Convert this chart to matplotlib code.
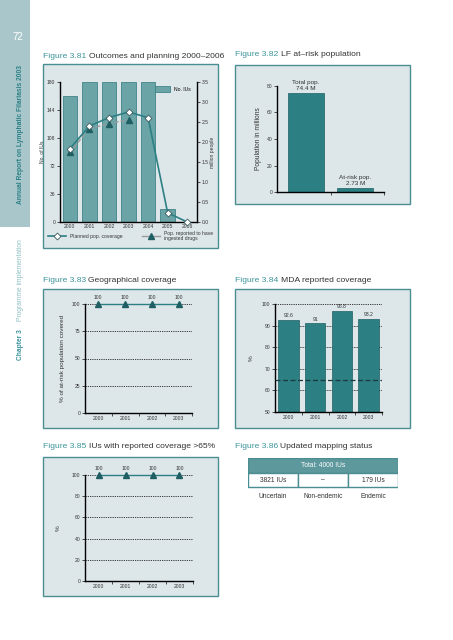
import matplotlib
matplotlib.use('Agg')
import matplotlib.pyplot as plt
from matplotlib.patches import Rectangle
from matplotlib.lines import Line2D
import numpy as np

plt.rcParams['font.family'] = ['Liberation Sans', 'DejaVu Sans']

W, H = 453, 640

# Figure 3.81
years_81 = [2000, 2001, 2002, 2003, 2004, 2005, 2006]
ius_81 = [162, 180, 180, 180, 180, 17, 0]
planned_81 = [1.83, 2.40, 2.61, 2.75, 2.61, 0.23, 0.0]
years_rep_81 = [2000, 2001, 2002, 2003]
reported_81 = [1.75, 2.33, 2.46, 2.56]

# Figure 3.82
groups_82 = ["Total pop.", "At-risk pop."]
pop_82 = [74.4, 2.73]
labels_82 = ["Total pop.\n74.4 M", "At-risk pop.\n2.73 M"]

# Figure 3.83
years_83 = ["2000", "2001", "2002", "2003"]
geo_83 = [100, 100, 100, 100]

# Figure 3.84
years_84 = ["2000", "2001", "2002", "2003"]
mda_84 = [92.6, 91.0, 96.8, 93.2]
mda_labels_84 = ["92.6", "91", "96.8", "93.2"]
target_84 = 65

# Figure 3.85
years_85 = ["2000", "2001", "2002", "2003"]
ius_85 = [100, 100, 100, 100]

# Figure 3.86
table_head_86 = "Total: 4000 IUs"
table_cells_86 = ["3821 IUs", "\u2013", "179 IUs"]
table_names_86 = ["Uncertain", "Non-endemic", "Endemic"]

TEAL = "#2c7f83"
TEAL_LIGHT = "#6aa4a7"
PANEL = "#dde7ea"
BORDER = "#4a8e92"
TITLE_TEAL = "#3b939a"
DARK = "#333333"

fig = plt.figure(figsize=(W / 100, H / 100), dpi=100)
fig.patch.set_facecolor("white")


def px(x, y, w, h):
    # pixel box (top-left origin) -> figure fraction
    return [x / W, 1 - (y + h) / H, w / W, h / H]


def panel(x, y, w, h):
    fig.patches.append(Rectangle((x / W, 1 - (y + h) / H), w / W, h / H,
                                 transform=fig.transFigure, facecolor=PANEL,
                                 edgecolor=BORDER, linewidth=1.0, zorder=-2))


def title(x, y, num, text):
    t = fig.text(x / W, 1 - y / H, "Figure " + num + " ", color=TITLE_TEAL,
                 fontsize=6.1, va="center", ha="left")
    fig.canvas.draw()
    bb = t.get_window_extent()
    fig.text(bb.x1 / W, 1 - y / H, text, color=DARK, fontsize=6.1,
             va="center", ha="left")


def style_ax(ax):
    ax.set_facecolor("none")
    for s in ["top", "right"]:
        ax.spines[s].set_visible(False)
    ax.spines["left"].set_linewidth(1.0)
    ax.spines["bottom"].set_linewidth(1.0)
    ax.tick_params(labelsize=3.6, colors=DARK, length=2, width=0.6, pad=1.5)


# sidebar
fig.patches.append(Rectangle((0, 1 - 227 / H), 30 / W, 227 / H, transform=fig.transFigure,
                             facecolor="#a9c7ca", edgecolor="none", zorder=-2))
fig.text(18 / W, 1 - 37 / H, "72", color="white", fontsize=7, ha="center", va="center")
fig.text(21 / W, 1 - 134 / H, "Annual Report on Lymphatic Filariasis 2003", color="#2b7f86",
         fontsize=4.8, rotation=90, ha="center", va="center", fontweight="bold")
fig.text(21 / W, 1 - 345 / H, "Chapter 3", color="#3b939a", fontsize=4.8, rotation=90,
         ha="center", va="center", fontweight="bold")
fig.text(21 / W, 1 - 280 / H, "Programme implementation", color="#8fc0c4", fontsize=4.8,
         rotation=90, ha="center", va="center")

# ---------- Figure 3.81 ----------
panel(43, 64, 175, 184)
title(43, 57, "3.81", "Outcomes and planning 2000\u20132006")
ax = fig.add_axes(px(60, 82, 137, 140))
style_ax(ax)
xi = np.arange(len(years_81))
ax.bar(xi, ius_81, width=0.74, color=TEAL_LIGHT, edgecolor="#3f8589", linewidth=0.6)
ax.set_ylim(0, 180)
ax.set_yticks([0, 36, 72, 108, 144, 180])
ax.set_xlim(-0.5, len(years_81) - 0.5)
ax.set_xticks(xi)
ax.set_xticklabels([str(y) for y in years_81])
ax.tick_params(axis="x", length=0)
ax.set_ylabel("No. of IUs", fontsize=3.6, color=DARK, labelpad=1)
ax2 = ax.twinx()
ax2.set_facecolor("none")
for s in ["top", "left", "bottom"]:
    ax2.spines[s].set_visible(False)
ax2.spines["right"].set_linewidth(1.0)
ax2.set_ylim(0, 3.5)
ax2.set_yticks(np.arange(0, 3.51, 0.5))
ax2.set_yticklabels(["%.1f" % v for v in np.arange(0, 3.51, 0.5)])
ax2.tick_params(labelsize=3.6, colors=DARK, length=2, width=0.6, pad=1.5)
ax2.set_ylabel("million people", fontsize=3.6, color=DARK, labelpad=1)
rx = [years_81.index(y) for y in years_rep_81]
ax2.plot(rx, reported_81, color="#9a9a9a", lw=1.0, ls=(0, (3, 1.5)),
         marker="^", ms=4.5, mfc="#1f5f63", mec="#1f5f63", zorder=3)
ax2.plot(xi, planned_81, color=TEAL, lw=1.2, marker="D", ms=3.5, mfc="white",
         mec="#3a5a5c", mew=0.6, zorder=4, clip_on=False)
ax2.legend(handles=[Rectangle((0, 0), 1, 1, fc=TEAL_LIGHT, ec="#3f8589", lw=0.6)],
           labels=["No. IUs"], loc="upper right", bbox_to_anchor=(0.99, 1.0), frameon=False,
           fontsize=3.6, handlelength=3, handleheight=1.4)
h1 = Line2D([], [], color=TEAL, lw=1.2, marker="D", ms=3.5, mfc="white", mec="#3a5a5c", mew=0.6)
h2 = Line2D([], [], color="#9a9a9a", lw=1.0, marker="^", ms=4.5, mfc="#1f5f63", mec="#1f5f63")
fig.legend(handles=[h1, h2], labels=["Planned pop. coverage", "Pop. reported to have\ningested drugs"],
           loc="center", bbox_to_anchor=((43 + 175 / 2) / W, 1 - 236 / H), ncol=2,
           frameon=False, fontsize=3.6, handlelength=3.5, columnspacing=4, labelcolor=DARK)

# ---------- Figure 3.82 ----------
panel(235, 65, 175, 139)
title(235, 55, "3.82", "LF at\u2013risk population")
ax = fig.add_axes(px(277, 86, 107, 106))
style_ax(ax)
bx = np.arange(len(groups_82))
ax.bar(bx, pop_82, width=0.73, color=TEAL, edgecolor="#1f5f63", linewidth=0.5)
ax.set_ylim(0, 80)
ax.set_xlim(-0.58, 1.58)
ax.set_yticks([0, 20, 40, 60, 80])
ax.set_xticks([0.5, 1.58])
ax.set_xticklabels([])
ax.set_ylabel("Population in millions", fontsize=4.8, color=DARK, labelpad=3)
for i, lab in enumerate(labels_82):
    ax.text(bx[i], pop_82[i] + 2, lab, ha="center", va="bottom", fontsize=4.6,
            color=DARK, linespacing=1.2)

# ---------- Figure 3.83 ----------
panel(43, 289, 175, 139)
title(43, 280, "3.83", "Geographical coverage")
ax = fig.add_axes(px(85, 304, 107, 109))
style_ax(ax)
cx = np.arange(len(years_83))
ax.set_xlim(-0.5, 3.5)
ax.set_ylim(0, 100)
ax.set_yticks([0, 25, 50, 75, 100])
for g in [25, 50, 75, 100]:
    ax.axhline(g, color="#222222", lw=0.6, ls=(0, (1.5, 1.2)), zorder=1)
ax.plot(cx, geo_83, color=TEAL, lw=1.0, marker="^", ms=4, mfc="#1f5f63", mec="#1f5f63",
        zorder=3, clip_on=False)
for i, v in enumerate(geo_83):
    ax.text(cx[i], v + 4, str(v), ha="center", va="bottom", fontsize=3.6, color=DARK)
ax.set_xticks([0.5, 1.5, 2.5, 3.5])
ax.set_xticklabels([])
ax.set_xticks(cx, minor=True)
ax.set_xticklabels(years_83, minor=True)
ax.tick_params(axis="x", which="minor", length=0, labelsize=3.6, colors=DARK, pad=2)
ax.set_ylabel("% of at-risk population covered", fontsize=4.6, color=DARK, labelpad=5)

# ---------- Figure 3.84 ----------
panel(235, 289, 175, 139)
title(235, 280, "3.84", "MDA reported coverage")
ax = fig.add_axes(px(275, 304, 107, 108))
style_ax(ax)
mx = np.arange(len(years_84))
ax.set_xlim(-0.5, 3.5)
ax.set_ylim(50, 100)
ax.set_yticks([50, 60, 70, 80, 90, 100])
for g in [60, 70, 80, 90, 100]:
    ax.axhline(g, color="#222222", lw=0.6, ls=(0, (1.5, 1.2)), zorder=1)
ax.bar(mx, mda_84, width=0.76, color=TEAL, edgecolor="#1f5f63", linewidth=0.5, zorder=2)
ax.axhline(target_84, color="#1a3a3c", lw=0.9, ls=(0, (4, 2)), zorder=3)
for i, v in enumerate(mda_84):
    ax.text(mx[i], v + 0.8, mda_labels_84[i], ha="center", va="bottom", fontsize=3.6, color=DARK)
ax.set_xticks([0.5, 1.5, 2.5, 3.5])
ax.set_xticklabels([])
ax.set_xticks(mx, minor=True)
ax.set_xticklabels(years_84, minor=True)
ax.tick_params(axis="x", which="minor", length=0, labelsize=3.6, colors=DARK, pad=2)
ax.set_ylabel("%", fontsize=4.6, color=DARK, labelpad=6)

# ---------- Figure 3.85 ----------
panel(43, 457, 175, 139)
title(43, 447, "3.85", "IUs with reported coverage >65%")
ax = fig.add_axes(px(85, 475, 108, 106))
style_ax(ax)
ex = np.arange(len(years_85))
ax.set_xlim(-0.5, 3.5)
ax.set_ylim(0, 100)
ax.set_yticks([0, 20, 40, 60, 80, 100])
for g in [20, 40, 60, 80, 100]:
    ax.axhline(g, color="#222222", lw=0.6, ls=(0, (1.5, 1.2)), zorder=1)
ax.plot(ex, ius_85, color=TEAL, lw=1.0, marker="^", ms=4, mfc="#1f5f63", mec="#1f5f63",
        zorder=3, clip_on=False)
for i, v in enumerate(ius_85):
    ax.text(ex[i], v + 4, str(v), ha="center", va="bottom", fontsize=3.6, color=DARK)
ax.set_xticks([0.5, 1.5, 2.5, 3.5])
ax.set_xticklabels([])
ax.set_xticks(ex, minor=True)
ax.set_xticklabels(years_85, minor=True)
ax.tick_params(axis="x", which="minor", length=0, labelsize=3.6, colors=DARK, pad=2)
ax.set_ylabel("%", fontsize=4.6, color=DARK, labelpad=8)

# ---------- Figure 3.86 ----------
title(235, 447, "3.86", "Updated mapping status")
ax = fig.add_axes(px(248, 458, 150, 45))
ax.set_xlim(0, 3)
ax.set_ylim(0, 3)
ax.axis("off")
ax.add_patch(Rectangle((0, 2), 3, 1, facecolor="#5d989c", edgecolor=BORDER, lw=1.0))
ax.text(1.5, 2.5, table_head_86, ha="center", va="center", color="white", fontsize=4.8)
for i, c in enumerate(table_cells_86):
    ax.add_patch(Rectangle((i, 1.05), 1, 0.95, facecolor="white", edgecolor=BORDER, lw=1.0))
    ax.text(i + 0.5, 1.52, c, ha="center", va="center", color=DARK, fontsize=4.8)
    ax.text(i + 0.5, 0.45, table_names_86[i], ha="center", va="center", color=DARK, fontsize=4.8)

fig.savefig("out.png", dpi=100, facecolor="white")
